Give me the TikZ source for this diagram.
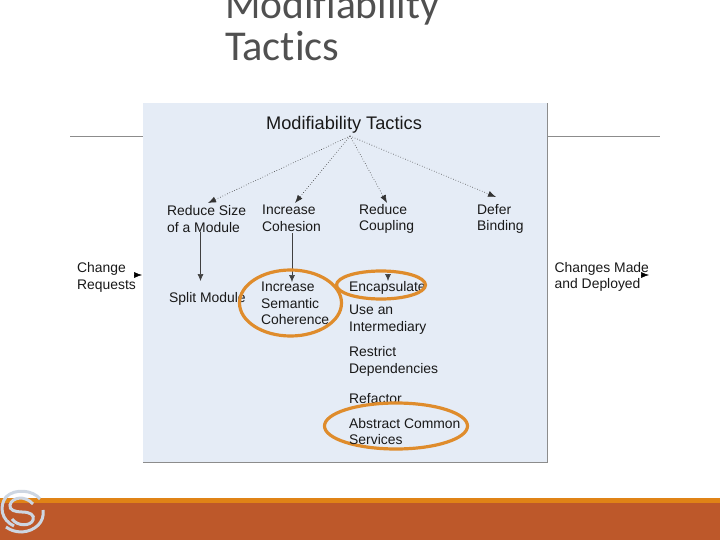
\documentclass[tikz,border=0pt]{standalone}
\usepackage{fontspec}
\setmainfont{Liberation Sans}
\newfontfamily\headfont[Ligatures=NoCommon]{Carlito}
\usetikzlibrary{arrows.meta}
\usetikzlibrary{shapes.geometric}
\definecolor{panelblue}{RGB}{229,236,246}
\definecolor{ringorange}{RGB}{223,140,44}
\definecolor{bandorange}{RGB}{224,131,22}
\definecolor{bandrust}{RGB}{189,88,42}
\definecolor{logogray}{RGB}{205,214,226}
\definecolor{headgray}{RGB}{80,80,80}
\tikzset{
  tactic/.style={align=left, inner sep=0pt, anchor=north west, font=\fontsize{13.9}{16.6}\selectfont, text=black!90},
  heading/.style={anchor=west, inner sep=0pt, font=\fontsize{41.5}{46}\selectfont\headfont, text=headgray},
  ring/.style={draw=ringorange, line width=3.2pt, ellipse, inner sep=0pt},
  solidarrow/.style={draw=black!75, line width=0.6pt, -{Latex[length=7pt,width=6pt]}},
  dotarrow/.style={draw=black!80, line width=0.6pt, dotted, -{Latex[length=8pt,width=6pt]}},
  stubarrow/.style={draw=black, line width=0.5pt, -{Latex[length=8pt,width=6pt]}},
  logoline/.style={draw=logogray, line width=3pt}
}
\begin{document}
\begin{tikzpicture}[x=1pt, y=-1pt]
  \useasboundingbox (0,0) rectangle (720,540);

  % slide title, cut by the top edge
  \begin{scope}
    \clip (0,0) rectangle (720,540);
    \node[heading] (slidetitle1) at (225,7) {Modifiability};
    \node[heading, font=\fontsize{42.5}{46}\selectfont\headfont] (slidetitle2) at (225,46) {Tactics};
  \end{scope}

  % rule behind the panel
  \coordinate (ruleL) at (70,136);
  \coordinate (ruleR) at (660,136);
  \draw[black!45, line width=0.7pt] (ruleL) -- (ruleR);

  % bottom band
  \fill[bandrust] (0,503) rectangle (720,540);
  \fill[bandorange] (0,498) rectangle (720,503);

  % panel
  \fill[panelblue] (143,103) rectangle (547,462);
  \draw[black!45, line width=0.7pt] (143,462) -- (547,462) -- (547,103);

  % tactics
  \node[inner sep=0pt, font=\fontsize{18.2}{22}\selectfont, text=black!90] (top) at (344,125) {Modifiability Tactics};

  \node[tactic] (size) at (167,205.5) {Reduce Size\\of a Module};
  \node[tactic] (cohesion) at (262,205) {Increase\\Cohesion};
  \node[tactic] (coupling) at (359,204) {Reduce\\Coupling};
  \node[tactic] (defer) at (477,204) {Defer\\Binding};

  \node[tactic] (split) at (169,292) {Split Module};
  \node[tactic] (semantic) at (261,282) {Increase\\Semantic\\Coherence};
  \node[tactic] (encaps) at (349,281) {Encapsulate};
  \node[tactic] (intermed) at (349,305) {Use an\\Intermediary};
  \node[tactic] (restrict) at (349,346.5) {Restrict\\Dependencies};
  \node[tactic] (refactor) at (349,393) {Refactor};

  % this ring hides the foot of the word above it
  \node[ring, fill=panelblue, minimum width=143pt, minimum height=46pt] (ringC) at (396,426) {};
  \node[tactic] (abstract) at (349,418) {Abstract Common\\Services};

  \node[tactic] (request) at (77,262.5) {Change\\Requests};
  \node[tactic] (changes) at (554.5,262) {Changes Made\\and Deployed};

  % connectors
  \coordinate (hub) at (350,136);
  \coordinate (sizeIn) at (208,203);
  \coordinate (cohesionIn) at (295,203);
  \coordinate (couplingIn) at (387,203);
  \coordinate (deferIn) at (496,197);
  \draw[dotarrow] (hub) -- (sizeIn);
  \draw[dotarrow] (hub) -- (cohesionIn);
  \draw[dotarrow] (hub) -- (couplingIn);
  \draw[dotarrow] (hub) -- (deferIn);

  \coordinate (sizeOut) at (200.5,232);
  \coordinate (splitIn) at (200.5,281);
  \coordinate (cohesionOut) at (292,233);
  \coordinate (semanticIn) at (292,282);
  \coordinate (couplingOut) at (388,274);
  \coordinate (encapsIn) at (388,281);
  \draw[solidarrow] (sizeOut) -- (splitIn);
  \draw[solidarrow] (cohesionOut) -- (semanticIn);
  \draw[solidarrow] (couplingOut) -- (encapsIn);

  \coordinate (reqStart) at (134,275);
  \coordinate (reqEnd) at (142,275);
  \draw[stubarrow] (reqStart) -- (reqEnd);
  \coordinate (outStart) at (641,275);
  \coordinate (outEnd) at (649,275);
  \draw[stubarrow] (outStart) -- (outEnd);

  % highlight rings
  \node[ring, minimum width=102pt, minimum height=66pt] (ringA) at (290.5,303) {};
  \node[ring, minimum width=89pt, minimum height=28pt] (ringB) at (381,285) {};

  % logo
  \draw[logoline] (40,499) .. controls (33,490) and (15,488) .. (6,497) .. controls (-1,506) and (1,520) .. (14,526);
  \draw[logoline] (43,510) .. controls (45,522) and (35,531) .. (22,532) .. controls (15,532) and (10,530) .. (6,527);
  \draw[logoline] (33,504) .. controls (25,495) and (12,497) .. (10,505) .. controls (9,510) and (15,512) .. (22,512) .. controls (30,512) and (35,515) .. (33,520) .. controls (31,526) and (18,527) .. (12,519);
\end{tikzpicture}
\end{document}
